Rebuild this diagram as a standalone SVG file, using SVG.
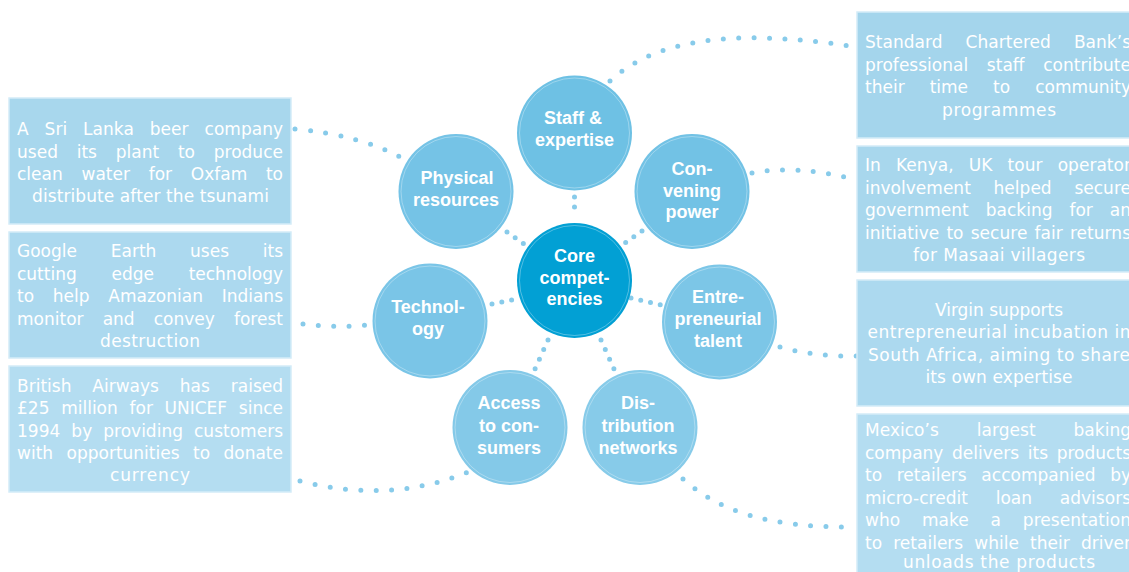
<svg xmlns="http://www.w3.org/2000/svg" width="1129" height="572" viewBox="0 0 1129 572">
<style>
.bg{fill:#ffffff}
.circ{stroke:none}
.ring{fill:none;stroke:#ffffff;stroke-opacity:.4;stroke-width:.8}
.ct{font-family:"Liberation Sans",Arial,sans-serif;font-weight:bold;font-size:18px;fill:#ffffff;text-anchor:middle}
.box{stroke:#d4ecf8;stroke-width:1.5}
.bt{font-family:"DejaVu Sans","Liberation Sans",sans-serif;font-size:17px;fill:#ffffff}
.mid{text-anchor:middle}
.dots{fill:none;stroke:#88cbea;stroke-width:5;stroke-linecap:round;stroke-dasharray:0 15.4}
.sd{stroke-dasharray:0 10}
.sd2{stroke-dasharray:0 10.5}
</style>
<rect class="bg" x="0" y="0" width="1129" height="572"/>

<g id="connectors">
  <path class="dots sd" d="M574.5 197 L574.5 217"/>
  <path class="dots sd" d="M507 232 L524 244"/>
  <path class="dots sd" d="M642 231 L625 243"/>
  <path class="dots sd" d="M492 304 L512 300"/>
  <path class="dots sd" d="M631 298 L661 305"/>
  <path class="dots sd2" d="M548 340 L535 369"/>
  <path class="dots sd2" d="M601 340 L614 369"/>
  <path class="dots" d="M610 81 C655 40 730 28 850 46"/>
  <path class="dots" d="M295 129 Q360 135 402 158"/>
  <path class="dots" d="M752 173 Q795 165 849 178"/>
  <path class="dots" d="M303 324 Q335 328 368 325"/>
  <path class="dots" d="M780 347 Q815 357 857 356"/>
  <path class="dots" d="M300 481 Q390 504 468 472"/>
  <path class="dots" d="M683 479 C720 512 770 527 848 527"/>
</g>

<g id="core">
  <circle class="circ" cx="574.5" cy="280.5" r="57.5" fill="#02a0d4"/>
  <circle class="ring" cx="574.5" cy="280.5" r="55"/>
  <text class="ct" x="574.5" y="262">Core</text>
  <text class="ct" x="574.5" y="284">compet-</text>
  <text class="ct" x="574.5" y="305">encies</text>
</g>
<g id="staff">
  <circle class="circ" cx="574.5" cy="133" r="57.5" fill="#6ec1e4"/>
  <circle class="ring" cx="574.5" cy="133" r="55"/>
  <text class="ct" x="573" y="124">Staff &amp;</text>
  <text class="ct" x="574.5" y="146">expertise</text>
</g>
<g id="physical">
  <circle class="circ" cx="456" cy="191.5" r="57.5" fill="#75c3e6"/>
  <circle class="ring" cx="456" cy="191.5" r="55"/>
  <text class="ct" x="457" y="184">Physical</text>
  <text class="ct" x="456" y="206">resources</text>
</g>
<g id="convening">
  <circle class="circ" cx="692" cy="191.5" r="57.5" fill="#72c2e5"/>
  <circle class="ring" cx="692" cy="191.5" r="55"/>
  <text class="ct" x="692" y="175">Con-</text>
  <text class="ct" x="692" y="197">vening</text>
  <text class="ct" x="692" y="218">power</text>
</g>
<g id="technology">
  <circle class="circ" cx="430" cy="321" r="57.5" fill="#7ac5e7"/>
  <circle class="ring" cx="430" cy="321" r="55"/>
  <text class="ct" x="428" y="313">Technol-</text>
  <text class="ct" x="428" y="335">ogy</text>
</g>
<g id="entrepreneurial">
  <circle class="circ" cx="719.5" cy="322" r="57.5" fill="#7cc6e7"/>
  <circle class="ring" cx="719.5" cy="322" r="55"/>
  <text class="ct" x="718" y="303">Entre-</text>
  <text class="ct" x="718" y="325">preneurial</text>
  <text class="ct" x="718" y="347">talent</text>
</g>
<g id="access">
  <circle class="circ" cx="510" cy="427.5" r="57.5" fill="#84c9e8"/>
  <circle class="ring" cx="510" cy="427.5" r="55"/>
  <text class="ct" x="509" y="409">Access</text>
  <text class="ct" x="509" y="432">to con-</text>
  <text class="ct" x="509" y="454">sumers</text>
</g>
<g id="distribution">
  <circle class="circ" cx="640" cy="427.5" r="57.5" fill="#87cbe9"/>
  <circle class="ring" cx="640" cy="427.5" r="55"/>
  <text class="ct" x="638" y="409">Dis-</text>
  <text class="ct" x="638" y="432">tribution</text>
  <text class="ct" x="638" y="454">networks</text>
</g>

<g id="box-srilanka">
  <rect class="box" x="9" y="98" width="282" height="126" fill="#a8d7ed"/>
  <text class="bt" x="17" y="135" textLength="266" lengthAdjust="spacing" word-spacing="10.5">A Sri Lanka beer company</text>
  <text class="bt" x="17" y="157.5" textLength="266" lengthAdjust="spacing" word-spacing="13.3">used its plant to produce</text>
  <text class="bt" x="17" y="180" textLength="266" lengthAdjust="spacing" word-spacing="13.3">clean water for Oxfam to</text>
  <text class="bt mid" x="150.5" y="202" textLength="237" lengthAdjust="spacing">distribute after the tsunami</text>
</g>
<g id="box-google">
  <rect class="box" x="9" y="232" width="282" height="126" fill="#acd9ef"/>
  <text class="bt" x="17" y="257" textLength="266" lengthAdjust="spacing" word-spacing="28.3">Google Earth uses its</text>
  <text class="bt" x="17" y="279.5" textLength="266" lengthAdjust="spacing" word-spacing="29.3">cutting edge technology</text>
  <text class="bt" x="17" y="302" textLength="266" lengthAdjust="spacing" word-spacing="13.3">to help Amazonian Indians</text>
  <text class="bt" x="17" y="324.5" textLength="266" lengthAdjust="spacing" word-spacing="13.6">monitor and convey forest</text>
  <text class="bt mid" x="150" y="347" textLength="100" lengthAdjust="spacing">destruction</text>
</g>
<g id="box-ba">
  <rect class="box" x="9" y="366" width="282" height="126" fill="#b4ddf1"/>
  <text class="bt" x="17" y="391.5" textLength="266" lengthAdjust="spacing" word-spacing="15.5">British Airways has raised</text>
  <text class="bt" x="17" y="414" textLength="266" lengthAdjust="spacing" word-spacing="6.3">£25 million for UNICEF since</text>
  <text class="bt" x="17" y="436.5" textLength="266" lengthAdjust="spacing" word-spacing="5.6">1994 by providing customers</text>
  <text class="bt" x="17" y="459" textLength="266" lengthAdjust="spacing" word-spacing="8">with opportunities to donate</text>
  <text class="bt mid" x="150" y="481" textLength="80" lengthAdjust="spacing">currency</text>
</g>
<g id="box-standard">
  <rect class="box" x="857" y="12" width="282" height="126" fill="#a4d5ec"/>
  <text class="bt" x="865" y="48" textLength="266" lengthAdjust="spacing" word-spacing="17.6">Standard Chartered Bank’s</text>
  <text class="bt" x="865" y="70.5" textLength="266" lengthAdjust="spacing" word-spacing="13.2">professional staff contribute</text>
  <text class="bt" x="865" y="93" textLength="266" lengthAdjust="spacing" word-spacing="19.6">their time to community</text>
  <text class="bt mid" x="999" y="115.5" textLength="114" lengthAdjust="spacing">programmes</text>
</g>
<g id="box-kenya">
  <rect class="box" x="857" y="146" width="282" height="126" fill="#a8d7ed"/>
  <text class="bt" x="865" y="171" textLength="266" lengthAdjust="spacing" word-spacing="9.7">In Kenya, UK tour operator</text>
  <text class="bt" x="865" y="193.5" textLength="266" lengthAdjust="spacing" word-spacing="17.3">involvement helped secure</text>
  <text class="bt" x="865" y="216" textLength="266" lengthAdjust="spacing" word-spacing="11.5">government backing for an</text>
  <text class="bt" x="865" y="238.5" textLength="266" lengthAdjust="spacing" word-spacing="1.7">initiative to secure fair returns</text>
  <text class="bt mid" x="999" y="261" textLength="172" lengthAdjust="spacing">for Masaai villagers</text>
</g>
<g id="box-virgin">
  <rect class="box" x="857" y="280" width="282" height="126" fill="#acd9ef"/>
  <text class="bt mid" x="999" y="315.5" textLength="128" lengthAdjust="spacing">Virgin supports</text>
  <text class="bt mid" x="999" y="338" textLength="263" lengthAdjust="spacing">entrepreneurial incubation in</text>
  <text class="bt mid" x="999" y="360.5" textLength="262" lengthAdjust="spacing">South Africa, aiming to share</text>
  <text class="bt mid" x="999" y="383" textLength="147" lengthAdjust="spacing">its own expertise</text>
</g>
<g id="box-mexico">
  <rect class="box" x="857" y="414" width="282" height="170" fill="#b4ddf1"/>
  <text class="bt" x="865" y="436" textLength="266" lengthAdjust="spacing" word-spacing="32.5">Mexico’s largest baking</text>
  <text class="bt" x="865" y="458.5" textLength="266" lengthAdjust="spacing" word-spacing="3.2">company delivers its products</text>
  <text class="bt" x="865" y="481" textLength="266" lengthAdjust="spacing" word-spacing="9.2">to retailers accompanied by</text>
  <text class="bt" x="865" y="503.5" textLength="266" lengthAdjust="spacing" word-spacing="22.3">micro-credit loan advisors</text>
  <text class="bt" x="865" y="526" textLength="266" lengthAdjust="spacing" word-spacing="16.3">who make a presentation</text>
  <text class="bt" x="865" y="548.5" textLength="266" lengthAdjust="spacing" word-spacing="5.7">to retailers while their driver</text>
  <text class="bt mid" x="999" y="568" textLength="192" lengthAdjust="spacing">unloads the products</text>
</g>
</svg>
